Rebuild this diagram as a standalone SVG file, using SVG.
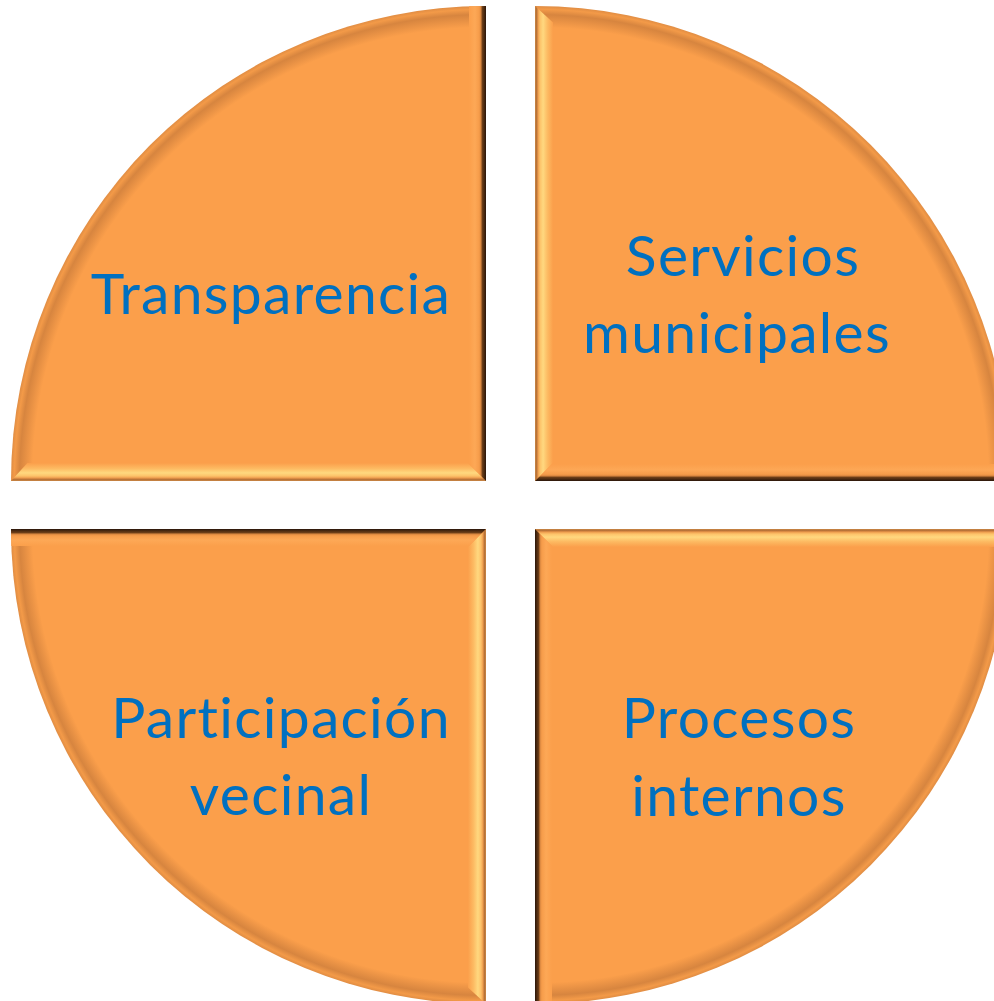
<svg xmlns="http://www.w3.org/2000/svg" xmlns:xlink="http://www.w3.org/1999/xlink" width="994" height="1001" viewBox="0 0 994 1001">
<style>
.lbl{font-family:Lato,"Open Sans","Liberation Sans",sans-serif;font-size:57px;fill:#0070C0;text-anchor:middle;letter-spacing:1.3px;font-variant-ligatures:none;font-feature-settings:"liga" 0}
</style>
<defs>
<radialGradient id="gBase" gradientUnits="userSpaceOnUse" cx="0" cy="0" r="475">
<stop offset="0" stop-color="#FB9F4B"/>
<stop offset="0.955" stop-color="#FB9F4B"/>
<stop offset="0.982" stop-color="#D7853F"/>
<stop offset="0.993" stop-color="#F39A48"/>
<stop offset="1" stop-color="#E08D44"/>
</radialGradient>
<linearGradient id="gBottom" gradientUnits="userSpaceOnUse" x1="0" y1="-18" x2="0" y2="0">
<stop offset="0" stop-color="#FB9F4B"/>
<stop offset="0.3" stop-color="#FDBA62"/>
<stop offset="0.55" stop-color="#FFD87F"/>
<stop offset="0.72" stop-color="#FDC36A"/>
<stop offset="0.84" stop-color="#EC994B"/>
<stop offset="0.9" stop-color="#B57036"/>
<stop offset="1" stop-color="#C98645"/>
</linearGradient>
<linearGradient id="gRight" gradientUnits="userSpaceOnUse" x1="-17" y1="0" x2="0" y2="0">
<stop offset="0" stop-color="#FB9F4B"/>
<stop offset="0.35" stop-color="#FDA856"/>
<stop offset="0.6" stop-color="#F69C4A"/>
<stop offset="0.7" stop-color="#D8863F"/>
<stop offset="0.78" stop-color="#6E3F18"/>
<stop offset="1" stop-color="#2A160A"/>
</linearGradient>
<g id="quad">
<path d="M0,0 L-475,0 A475,475 0 0 1 0,-475 Z" fill="url(#gBase)"/>
<polygon points="-475,0 0,0 -18,-18 -458.6,-18" fill="url(#gBottom)"/>
<polygon points="0,0 0,-475 -17,-474.7 -17,-17" fill="url(#gRight)"/>
</g>
</defs>
<g id="node-transparencia">
<use xlink:href="#quad" href="#quad" transform="translate(486,481)"/>
<text class="lbl" x="271" y="314">Transparencia</text>
</g>
<g id="node-servicios">
<use xlink:href="#quad" href="#quad" transform="translate(535,481) rotate(90)"/>
<text class="lbl" x="743" y="276">Servicios</text>
<text class="lbl" x="737" y="353">municipales</text>
</g>
<g id="node-participacion">
<use xlink:href="#quad" href="#quad" transform="translate(486,529) rotate(270)"/>
<text class="lbl" x="281" y="738">Participación</text>
<text class="lbl" x="281" y="815">vecinal</text>
</g>
<g id="node-procesos">
<use xlink:href="#quad" href="#quad" transform="translate(535,529) rotate(180)"/>
<text class="lbl" x="739" y="738">Procesos</text>
<text class="lbl" x="739" y="816">internos</text>
</g>
<g id="connectors"/>
</svg>
